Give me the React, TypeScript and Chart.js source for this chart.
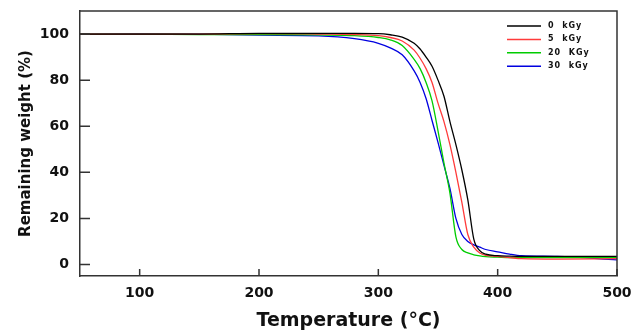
import React, { useEffect, useRef } from "react";
import { Chart, registerables } from "chart.js";

Chart.register(...registerables);

const temps = [50, 100, 150, 200, 250, 280, 300, 310, 320, 330, 335, 340, 345, 350, 355, 360, 365, 370, 375, 380, 385, 390, 400, 410, 420, 450, 500];
const kGy0 = [100, 100, 100, 100.3, 100.3, 100.3, 100.2, 99.7, 98.7, 96, 93.5, 90, 86, 80, 73, 62, 52, 41, 28, 11, 6, 4.5, 3.8, 3.6, 3.5, 3.5, 3.5];
const kGy5 = [100, 100, 100, 100.2, 100, 99.8, 99.3, 98.5, 97, 93, 89.5, 85, 79, 70, 62, 52, 40, 27, 13, 7.5, 5, 4, 3.5, 3, 2.5, 2.3, 2.5];
const kGy20 = [100, 100, 99.8, 99.8, 99.6, 99.3, 98.5, 97.5, 95, 89, 85, 79, 71, 58, 44, 31, 12, 6.5, 5, 4.2, 3.7, 3.4, 3.2, 3, 3, 3, 3];
const kGy30 = [100, 100.2, 100, 99.5, 99.2, 98, 96, 94, 91, 84, 79, 72, 62.5, 53, 43, 33, 20, 13, 10, 8.5, 7.5, 6.5, 5.5, 4.5, 3.8, 3.5, 2];

const seriesLabels = ["0  kGy", "5  kGy", "20  KGy", "30  kGy"];
const seriesColors = ["#000000", "#ff3b3b", "#00cc00", "#0000e0"];
const seriesValues = [kGy0, kGy5, kGy20, kGy30];

const xTicks = [100, 200, 300, 400, 500];
const yTicks = [0, 20, 40, 60, 80, 100];

const FONT = "'DejaVu Sans', Arial, sans-serif";

const framePlugin = {
  id: "frameTicks",
  afterDraw(chart: any) {
    const { ctx, chartArea } = chart;
    const xs = chart.scales.x;
    const ys = chart.scales.y;
    ctx.save();
    ctx.strokeStyle = "#333";
    ctx.lineWidth = 1.5;
    ctx.beginPath();
    ctx.moveTo(chartArea.left, chartArea.top);
    ctx.lineTo(chartArea.right, chartArea.top);
    ctx.lineTo(chartArea.right, chartArea.bottom);
    ctx.stroke();
    ctx.beginPath();
    xs.ticks.forEach((t: any) => {
      const px = xs.getPixelForValue(t.value);
      ctx.moveTo(px, chartArea.bottom);
      ctx.lineTo(px, chartArea.bottom - 7);
    });
    ys.ticks.forEach((t: any) => {
      const py = ys.getPixelForValue(t.value);
      ctx.moveTo(chartArea.left, py);
      ctx.lineTo(chartArea.left + 10, py);
    });
    ctx.stroke();

    // legend
    const x0 = chartArea.right - 110;
    const x1 = chartArea.right - 76;
    const tx = chartArea.right - 69;
    ctx.font = `bold 8px ${FONT}`;
    ctx.textBaseline = "middle";
    ctx.textAlign = "left";
    try { (ctx as any).letterSpacing = "1px"; } catch (e) {}
    chart.data.datasets.forEach((ds: any, i: number) => {
      const y = chartArea.top + 15 + i * 13.4;
      ctx.strokeStyle = ds.borderColor;
      ctx.lineWidth = 1.5;
      ctx.beginPath();
      ctx.moveTo(x0, y);
      ctx.lineTo(x1, y);
      ctx.stroke();
      ctx.fillStyle = "#111";
      ctx.fillText(ds.label, tx, y);
    });
    ctx.restore();
  },
};

export default function App() {
  const ref = useRef<HTMLCanvasElement | null>(null);
  useEffect(() => {
    document.body.style.margin = "0";
    const canvas = ref.current;
    if (!canvas) return;
    const chart = new Chart(canvas, {
      type: "line",
      data: {
        datasets: seriesValues.map((vals, i) => ({
          label: seriesLabels[i],
          data: temps.map((t, j) => ({ x: t, y: vals[j] })),
          borderColor: seriesColors[i],
          backgroundColor: seriesColors[i],
          borderWidth: 1.3,
          pointRadius: 0,
          cubicInterpolationMode: "monotone" as const,
        })),
      },
      options: {
        animation: false,
        responsive: false,
        layout: { padding: { left: 0, right: 26, top: 11, bottom: 0 } },
        plugins: { legend: { display: false }, tooltip: { enabled: false } },
        scales: {
          x: {
            type: "linear",
            min: 50,
            max: 500,
            afterBuildTicks: (s: any) => { s.ticks = xTicks.map((v) => ({ value: v })); },
            afterFit: (s: any) => { s.height = 56; s.paddingLeft = 0; s.paddingRight = 0; },
            grid: { display: false, drawTicks: false },
            border: { display: true, color: "#333", width: 1.5 },
            ticks: { color: "#111", font: { family: FONT, size: 14, weight: "bold" }, padding: 9, maxRotation: 0 },
            title: {
              display: true,
              text: "Temperature (°C)",
              color: "#111",
              font: { family: FONT, size: 19, weight: "bold" },
              padding: { top: 0, bottom: 0 },
            },
          },
          y: {
            min: -5,
            max: 110,
            afterBuildTicks: (s: any) => { s.ticks = yTicks.map((v) => ({ value: v })); },
            afterFit: (s: any) => { s.width = 80; s.paddingTop = 0; s.paddingBottom = 0; },
            grid: { display: false, drawTicks: false },
            border: { display: true, color: "#333", width: 1.5 },
            ticks: { color: "#111", font: { family: FONT, size: 14, weight: "bold" }, padding: 11 },
            title: {
              display: true,
              text: "Remaining weight (%)",
              color: "#111",
              font: { family: FONT, size: 15, weight: "bold" },
              padding: { top: 17, bottom: 0 },
            },
          },
        },
      } as any,
      plugins: [framePlugin],
    });
    return () => chart.destroy();
  }, []);
  return (
    <div style={{ width: 643, height: 332, background: "#fff" }}>
      <canvas ref={ref} width={643} height={332} style={{ display: "block" }} />
    </div>
  );
}
